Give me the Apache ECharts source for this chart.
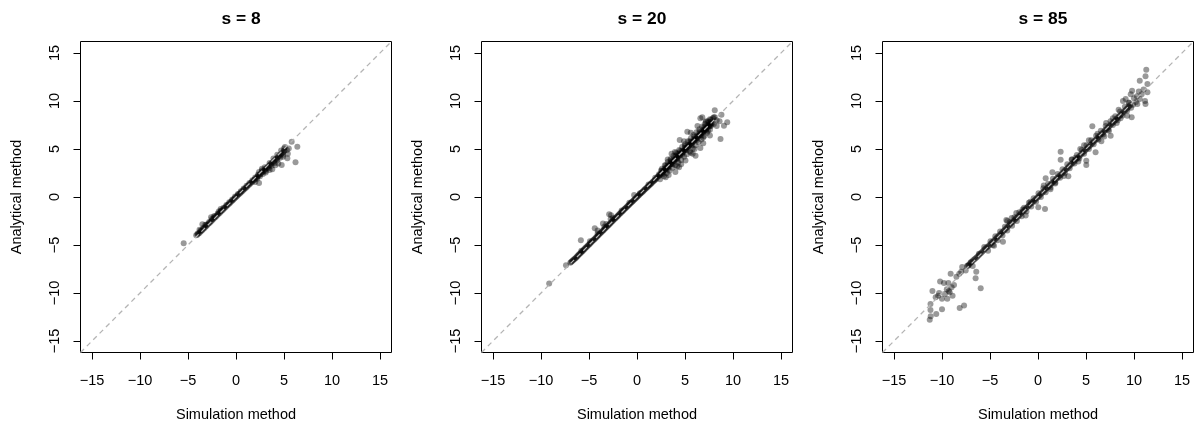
<!DOCTYPE html>
<html>
<head>
<meta charset="utf-8">
<script src="https://cdn.jsdelivr.net/npm/echarts@6/dist/echarts.min.js"></script>
<style>
  html, body { margin: 0; padding: 0; background: #fff; }
  #chart { width: 1198px; height: 429px; }
</style>
</head>
<body>
<div id="chart"></div>
<script>
// ---------- data ----------
const panelTitles = ['s = 8', 's = 20', 's = 85'];
const tickValues = [-15, -10, -5, 0, 5, 10, 15];
const axisRange = [-16.2, 16.2];
const xTitle = 'Simulation method';
const yTitle = 'Analytical method';

// s = 8 : [simulation, analytical]
const s8Band = [
  [-4.15,-3.98],[-4.02,-3.92],[-3.9,-3.8],[-3.78,-3.72],[-3.66,-3.58],[-3.55,-3.5],[-3.44,-3.36],[-3.31,-3.26],
  [-3.2,-3.12],[-3.08,-3.02],[-2.96,-2.9],[-2.85,-2.77],[-2.73,-2.68],[-2.62,-2.55],[-2.5,-2.44],[-2.38,-2.33],
  [-2.27,-2.2],[-2.15,-2.1],[-2.03,-1.97],[-1.92,-1.86],[-1.8,-1.75],[-1.68,-1.63],[-1.57,-1.52],[-1.45,-1.4],
  [-1.33,-1.3],[-1.22,-1.18],[-1.1,-1.07],[-0.98,-0.95],[-0.87,-0.84],[-0.75,-0.73],[-0.63,-0.62],[-0.52,-0.5],
  [-0.4,-0.39],[-0.28,-0.28],[-0.17,-0.16],[-0.05,-0.05],[0.07,0.06],[0.18,0.17],[0.3,0.28],[0.42,0.39],
  [0.53,0.5],[0.65,0.61],[0.77,0.72],[0.88,0.83],[1.0,0.94],[1.12,1.05],[1.23,1.16],[1.35,1.27],[1.47,1.38],
  [1.58,1.5],[1.7,1.6],[1.82,1.72],[1.93,1.83],[2.05,1.94],[2.17,2.05],[2.28,2.17],[2.4,2.28],[2.52,2.38],
  [2.63,2.5],[2.75,2.6],[2.87,2.72],[2.98,2.83],[3.1,2.94],[3.22,3.05],[3.33,3.16],[3.45,3.27],[3.57,3.38],
  [3.68,3.5],[3.8,3.6],[3.92,3.72],[4.03,3.83],[4.15,3.95],[4.27,4.05],[4.38,4.17],[4.5,4.28],[4.62,4.4],
  [4.73,4.5],[4.85,4.62],[4.97,4.75],[5.05,4.85],
  [2.2,1.9],[2.5,2.15],[2.8,2.4],[3.1,2.7],[3.4,3.0],[3.7,3.25],[4.0,3.55],[4.3,3.85],[4.6,4.1],[4.9,4.4],
  [2.3,2.35],[2.7,2.75],[3.0,3.1],[3.5,3.55],[3.9,4.0],[4.3,4.4],[4.7,4.85],[5.0,5.05],
  [-4.0,-3.8],[-3.7,-3.5],[-3.4,-3.2],[-3.1,-2.9],[-2.8,-2.6],[-2.5,-2.3],[-2.2,-2.0],[-1.9,-1.72],[-1.6,-1.42],
  [-1.3,-1.12],[-1.0,-0.84],[-0.7,-0.55],[-0.4,-0.25],[-0.1,0.04],[0.2,0.32],[0.5,0.6],[0.8,0.88],[1.1,1.17],
  [1.4,1.45],[1.7,1.74],[2.0,2.03]
];
const s8Scatter = [
  [-5.45,-4.82],[-3.5,-2.85],[-3.2,-2.9],[-2.6,-2.1],[-2.3,-2.0],[-1.6,-1.25],[-1.8,-1.5],[-3.8,-3.4],
  [5.8,5.76],[6.39,5.24],[6.2,3.62],[5.5,5.05],[5.35,4.03],[5.3,4.9],[5.1,5.2],[4.1,3.3],[4.76,3.33],
  [3.1,2.55],[2.4,1.45],[3.78,2.9],[4.4,3.5],[2.0,1.55],[5.4,4.5],[4.9,4.2],[3.5,2.8],[2.4,2.6],[2.7,2.95]
];

// s = 20
const s20Band = [
  [-6.95,-6.85],[-6.78,-6.7],[-6.6,-6.55],[-6.42,-6.38],[-6.25,-6.2],[-6.08,-6.02],[-5.9,-5.85],[-5.72,-5.68],
  [-5.55,-5.5],[-5.38,-5.32],[-5.2,-5.15],[-5.02,-4.98],[-4.85,-4.8],[-4.68,-4.62],[-4.5,-4.45],[-4.32,-4.28],
  [-4.15,-4.1],[-3.98,-3.92],[-3.8,-3.75],[-3.62,-3.58],[-3.45,-3.4],[-3.28,-3.22],[-3.1,-3.05],[-2.92,-2.88],
  [-2.75,-2.7],[-2.58,-2.52],[-2.4,-2.35],[-2.22,-2.18],[-2.05,-2.0],[-1.88,-1.83],[-1.7,-1.66],[-1.52,-1.48],
  [-1.35,-1.31],[-1.18,-1.14],[-1.0,-0.97],[-0.82,-0.8],[-0.65,-0.63],[-0.48,-0.46],[-0.3,-0.29],[-0.12,-0.12],
  [0.05,0.05],[0.22,0.21],[0.4,0.38],[0.58,0.55],[0.75,0.72],[0.92,0.88],[1.1,1.05],[1.28,1.22],[1.45,1.38],
  [1.62,1.55],[1.8,1.72],[1.98,1.88],
  [-6.86,-6.78],[-6.69,-6.62],[-6.51,-6.46],[-6.33,-6.29],[-6.16,-6.11],[-5.99,-5.94],[-5.81,-5.76],[-5.63,-5.59],
  [-5.46,-5.41],[-5.29,-5.24],[-5.11,-5.06],[-4.93,-4.89],[-4.76,-4.71],[-4.59,-4.54],[-4.41,-4.37],[-4.23,-4.19],
  [-4.06,-4.01],[-3.89,-3.84],[-3.71,-3.66],[-3.53,-3.49],[-3.36,-3.31],[-3.19,-3.14],[-3.01,-2.96],[-2.83,-2.79],
  [-2.66,-2.61],[-2.49,-2.44],[-2.31,-2.27],[-2.13,-2.09],[-1.96,-1.92],[-1.79,-1.75],[-1.61,-1.57],[-1.43,-1.4],
  [-1.26,-1.23],[-1.09,-1.06],[-0.91,-0.89],[-0.73,-0.71],[-0.56,-0.54],[-0.39,-0.38],[-0.21,-0.2],[-0.03,-0.03],
  [0.13,0.13],[0.31,0.3],[0.49,0.47],[0.66,0.63],[0.83,0.8],[1.01,0.97],[1.19,1.14],[1.36,1.3],[1.53,1.47],
  [1.71,1.64],[1.89,1.8],[2.05,1.98],
  [-5.8,-5.6],[-4.9,-4.6],[-4.1,-3.8],[-3.4,-3.1],[-2.5,-2.2],[-1.6,-1.4],[-0.8,-0.6],[0.3,0.4],[1.2,1.3],[1.9,2.0],
  [2.15,2.1],[2.35,2.3],[2.55,2.48],[2.75,2.7],[2.95,2.88],[3.15,3.1],[3.35,3.28],[3.55,3.5],[3.75,3.68],
  [3.95,3.9],[4.15,4.08],[4.35,4.3],[4.55,4.48],[4.75,4.7],[4.95,4.88],[5.15,5.1],[5.35,5.28],[5.55,5.5],
  [5.75,5.68],[5.95,5.9],[6.15,6.08],[6.35,6.3],[6.55,6.48],[6.75,6.7],[6.95,6.88],[7.15,7.1],[7.35,7.28],
  [7.55,7.5],[7.75,7.72],
  [2.25,2.2],[2.45,2.39],[2.65,2.59],[2.85,2.79],[3.05,2.99],[3.25,3.19],[3.45,3.39],[3.65,3.59],[3.85,3.79],
  [4.05,3.99],[4.25,4.19],[4.45,4.39],[4.65,4.59],[4.85,4.79],[5.05,4.99],[5.25,5.19],[5.45,5.39],[5.65,5.59],
  [5.85,5.79],[6.05,5.99],[6.25,6.19],[6.45,6.39],[6.65,6.59],[6.85,6.79],[7.05,6.99],[7.25,7.19],[7.45,7.39],[7.65,7.6],
  [2.3,2.38],[2.6,2.7],[2.9,3.0],[3.2,3.32],[3.5,3.62],[3.8,3.92],[4.1,4.22],[4.4,4.52],[4.7,4.82],[5.0,5.12],
  [5.3,5.42],[5.6,5.72],[5.9,6.02],[6.2,6.32],[6.5,6.62],[6.8,6.92],[7.1,7.22],[7.4,7.52],[7.7,7.85],
  [2.4,2.25],[2.7,2.55],[3.0,2.85],[3.3,3.15],[3.6,3.45],[3.9,3.75],[4.2,4.05],[4.5,4.35],[4.8,4.65],[5.1,4.95],
  [5.4,5.25],[5.7,5.55],[6.0,5.85],[6.3,6.15],[6.6,6.45],[6.9,6.75],[7.2,7.05],[7.5,7.35],[7.8,7.65],
  [2.5,2.75],[3.0,3.3],[3.5,3.8],[4.0,4.3],[4.5,4.8],[5.0,5.3],[5.5,5.8],[6.0,6.3],[6.5,6.8],[7.0,7.3],[7.5,7.8],
  [2.7,2.4],[3.2,2.9],[3.7,3.4],[4.2,3.9],[4.7,4.4],[5.2,4.9],[5.7,5.4],[6.2,5.9],[6.7,6.4],[7.2,6.9],[7.7,7.4],
  [2.4,1.85],[2.8,2.15],[3.1,2.5],[3.4,2.75],[3.7,3.05],[4.0,3.3],[4.3,3.6],[4.6,3.85],[4.9,4.2],[5.2,4.45],
  [5.5,4.75],[5.8,5.05],[6.1,5.4],[6.4,5.7],[6.7,6.0],[7.0,6.35],[7.3,6.7],[7.6,7.0],
  [2.6,2.95],[2.9,3.3],[3.2,3.65],[3.5,3.95],[3.8,4.3],[4.1,4.6],[4.4,4.9],[4.7,5.2],[5.0,5.5],[5.3,5.8],
  [5.6,6.1],[5.9,6.45],[6.2,6.75],[6.5,7.05],[6.8,7.35],[7.1,7.6],[7.4,7.9],[7.7,8.05]
];
const s20Scatter = [
  [-9.15,-9.0],[-7.4,-7.1],[-5.85,-4.5],[-4.4,-3.25],[-4.1,-3.5],[-3.55,-2.75],[-2.9,-1.8],[-2.7,-1.9],
  [-2.75,-2.3],[-3.2,-2.8],[-0.3,0.2],
  [8.1,9.05],[9.4,7.8],[8.8,8.57],[8.7,6.05],[5.24,6.8],[4.45,5.95],[6.8,8.3],[3.95,4.7],[6.1,4.3],
  [4.0,2.6],[5.05,3.8],[9.06,7.43],[8.1,8.3],[7.67,7.43],[7.15,7.8],[8.3,7.4],[8.6,7.9],[7.9,8.2],
  [8.0,7.6],[7.6,6.4],[6.9,5.6],[6.6,5.1],[5.6,4.6],[5.8,4.5],[4.6,3.4],[3.3,2.3],[2.99,2.05],[3.2,3.9],
  [3.6,4.5],[4.9,5.8],[5.6,6.7],[6.3,7.4],[7.0,7.0],[7.6,8.1],[6.0,5.0],[4.2,3.2],[4.2,4.48],[4.38,3.09],
  [6.9,6.2],[7.4,6.9],[8.3,8.0],[8.0,8.3],[7.2,7.9],[6.6,8.2]
];

// s = 85
const s85Band = [
  [-7.4,-7.2],[-7.15,-7.0],[-6.9,-6.75],[-6.65,-6.5],[-6.4,-6.3],[-6.15,-6.05],[-5.9,-5.8],[-5.65,-5.55],
  [-5.4,-5.3],[-5.15,-5.1],[-4.9,-4.85],[-4.65,-4.6],[-4.4,-4.35],[-4.15,-4.1],[-3.9,-3.85],[-3.65,-3.6],
  [-3.4,-3.35],[-3.15,-3.1],[-2.9,-2.85],[-2.65,-2.6],[-2.4,-2.35],[-2.15,-2.1],[-1.9,-1.85],[-1.65,-1.6],
  [-1.4,-1.35],[-1.15,-1.1],[-0.9,-0.85],[-0.65,-0.62],[-0.4,-0.38],[-0.15,-0.13],[0.1,0.1],[0.35,0.36],
  [0.6,0.6],[0.85,0.85],[1.1,1.1],[1.35,1.33],[1.6,1.58],[1.85,1.82],[2.1,2.07],[2.35,2.3],[2.6,2.55],
  [2.85,2.8],[3.1,3.05],[3.35,3.3],[3.6,3.55],[3.85,3.8],[4.1,4.05],[4.35,4.3],[4.6,4.55],[4.85,4.8],
  [5.1,5.05],[5.35,5.3],[5.6,5.55],[5.85,5.8],[6.1,6.05],[6.35,6.3],[6.6,6.55],[6.85,6.8],[7.1,7.05],
  [7.35,7.3],[7.6,7.55],[7.85,7.8],[8.1,8.05],[8.35,8.3],[8.6,8.55],[8.85,8.8],[9.1,9.05],[9.35,9.3],[9.6,9.55],
  [-7.28,-7.1],[-7.03,-6.88],[-6.78,-6.62],[-6.53,-6.4],[-6.28,-6.18],[-6.03,-5.92],[-5.78,-5.68],[-5.53,-5.42],
  [-5.28,-5.2],[-5.03,-4.98],[-4.78,-4.72],[-4.53,-4.48],[-4.28,-4.22],[-4.03,-3.98],[-3.78,-3.72],[-3.53,-3.48],
  [-3.28,-3.22],[-3.03,-2.98],[-2.78,-2.72],[-2.53,-2.48],[-2.28,-2.22],[-2.03,-1.98],[-1.78,-1.72],[-1.53,-1.48],
  [-1.28,-1.22],[-1.03,-0.98],[-0.78,-0.74],[-0.53,-0.5],[-0.28,-0.26],[-0.03,-0.02],[0.22,0.23],[0.47,0.48],
  [0.72,0.72],[0.97,0.97],[1.22,1.21],[1.47,1.45],[1.72,1.7],[1.97,1.95],[2.22,2.18],[2.47,2.42],[2.72,2.68],
  [2.97,2.92],[3.22,3.18],[3.47,3.42],[3.72,3.68],[3.97,3.92],[4.22,4.18],[4.47,4.42],[4.72,4.68],[4.97,4.92],
  [5.22,5.18],[5.47,5.42],[5.72,5.68],[5.97,5.92],[6.22,6.18],[6.47,6.42],[6.72,6.68],[6.97,6.92],[7.22,7.18],
  [7.47,7.42],[7.72,7.68],[7.97,7.92],[8.22,8.18],[8.47,8.42],[8.72,8.68],[8.97,8.92],[9.22,9.18],[9.47,9.42],
  [-4.95,-4.6],[-4.45,-4.1],[-3.95,-3.6],[-3.45,-3.1],[-2.95,-2.62],[-2.45,-2.1],[-1.95,-1.6],[-1.45,-1.12],
  [-0.95,-0.6],[-0.45,-0.12],[0.05,0.4],[0.55,0.9],[1.05,1.38],[1.55,1.9],[2.05,2.4],[2.55,2.88],[3.05,3.4],
  [3.55,3.9],[4.05,4.38],[4.55,4.9],[5.05,5.4],[5.55,5.9],[6.05,6.38],[6.55,6.9],[7.05,7.4],[7.55,7.9],
  [8.05,8.4],[8.55,8.9],[9.05,9.4],[9.45,9.85],
  [-4.7,-5.0],[-4.2,-4.5],[-3.7,-4.0],[-3.2,-3.5],[-2.7,-3.0],[-2.2,-2.5],[-1.7,-2.0],[-1.2,-1.5],[-0.7,-1.0],
  [-0.2,-0.5],[0.3,0.0],[0.8,0.5],[1.3,1.0],[1.8,1.5],[2.3,2.0],[2.8,2.5],[3.3,3.0],[3.8,3.5],[4.3,4.0],
  [4.8,4.5],[5.3,5.0],[5.8,5.5],[6.3,6.0],[6.8,6.5],[7.3,7.0],[7.8,7.5],[8.3,8.0],[8.8,8.5],[9.3,9.0],[9.7,9.3]
];
const s85Scatter = [
  [-11.28,-12.8],[-11.18,-12.43],[-11.2,-11.77],[-11.2,-11.15],[-10.6,-12.2],[-10.0,-11.7],[-11.0,-9.8],
  [-10.3,-10.0],[-10.0,-10.6],[-10.66,-10.45],[-9.8,-8.96],[-9.34,-8.96],[-9.2,-9.93],[-8.9,-10.3],
  [-9.45,-10.6],[-9.1,-8.0],[-8.75,-9.17],[-8.16,-11.56],[-7.7,-11.3],[-8.2,-8.0],[-7.53,-7.67],
  [-5.97,-9.5],[-6.5,-8.47],[-6.43,-7.78],[-7.26,-7.15],[-10.2,-8.8],[-9.5,-9.6],[-9.0,-9.4],[-8.5,-8.3],
  [-7.9,-7.3],[-7.0,-6.8],[-6.8,-7.2],[-8.0,-7.8],[-9.3,-9.8],[-10.4,-10.3],[-9.7,-10.1],
  [-6.15,-5.9],[-5.6,-5.2],[-5.2,-5.6],[-4.58,-5.07],[-3.65,-4.65],[-3.3,-2.4],[-2.74,-2.19],[-2.26,-1.67],
  [-1.28,-1.94],[-3.2,-2.5],[-1.6,-1.3],[-0.8,-0.5],[0.03,-1.07],[0.73,-1.25],[0.8,1.95],[1.5,2.57],
  [0.6,1.2],[1.3,0.8],[1.8,1.4],[2.36,4.72],[2.36,3.89],[3.16,2.16],[2.7,2.2],[3.5,3.9],[3.9,4.1],
  [4.2,3.7],[5.03,3.33],[5.03,3.78],[6.0,4.65],[4.4,5.0],[4.8,5.4],[5.66,7.36],[5.3,5.9],[6.2,6.6],
  [6.6,5.8],[7.57,6.39],[7.1,7.7],[6.9,6.3],[7.8,8.2],[7.4,6.9],[8.2,7.7],[8.6,8.2],[8.4,9.1],
  [9.13,10.2],[11.28,13.26],[10.6,12.1],[11.2,12.57],[11.4,11.77],[11.4,10.9],[11.15,10.0],[11.2,9.7],
  [10.35,9.7],[9.66,10.7],[9.8,11.07],[8.85,10.0],[9.3,8.47],[9.76,8.3],[10.0,10.3],[10.3,10.5],
  [10.6,10.2],[10.2,9.9],[9.9,9.6],[10.8,10.7],[11.0,11.2],[9.5,9.8],[10.5,11.0]
];

const panelData = [s8Band.concat(s8Scatter), s20Band.concat(s20Scatter), s85Band.concat(s85Scatter)];

// ---------- layout ----------
const gridLefts = [80.5, 481.5, 882.5];
const gridTop = 41.5, gridSize = 311;
const FONT = '"Liberation Sans", Arial, Helvetica, sans-serif';
const fmt = v => String(v).replace('-', '\u2212');

const grids = [], xAxes = [], yAxes = [], series = [], titles = [];
panelData.forEach((pts, i) => {
  grids.push({ left: gridLefts[i], top: gridTop, width: gridSize, height: gridSize,
    show: true, borderColor: '#000', borderWidth: 1, backgroundColor: 'transparent' });
  titles.push({ text: panelTitles[i], left: gridLefts[i] + gridSize / 2, top: 6, textAlign: 'center',
    textStyle: { fontFamily: FONT, fontWeight: 'bold', fontSize: 17.4, color: '#000' } });
  const common = {
    gridIndex: i, type: 'value', min: axisRange[0], max: axisRange[1],
    axisLine: { show: false, onZero: false }, splitLine: { show: false },
    axisTick: { show: true, inside: false, length: 7, customValues: tickValues, lineStyle: { color: '#000', width: 1 } },
    nameLocation: 'middle',
    nameTextStyle: { fontFamily: FONT, fontSize: 14.5, color: '#000' }
  };
  xAxes.push(Object.assign({}, common, {
    position: 'bottom', name: xTitle, nameGap: 55,
    axisLabel: { customValues: tickValues, formatter: fmt, fontFamily: FONT, fontSize: 14.5, color: '#000', margin: 21 }
  }));
  yAxes.push(Object.assign({}, common, {
    position: 'left', name: yTitle, nameGap: 56,
    axisLabel: { customValues: tickValues, formatter: fmt, fontFamily: FONT, fontSize: 14.5, color: '#000', margin: 18, rotate: 90 }
  }));
  series.push({
    type: 'scatter', xAxisIndex: i, yAxisIndex: i, data: pts, symbol: 'circle', symbolSize: 6,
    itemStyle: { color: 'rgba(0,0,0,0.5)', borderWidth: 0 }, silent: true, z: 2, large: false
  });
  series.push({
    type: 'line', xAxisIndex: i, yAxisIndex: i,
    data: [[axisRange[0], axisRange[0]], [axisRange[1], axisRange[1]]],
    symbol: 'none', silent: true, z: 3,
    lineStyle: { color: '#b4b4b4', width: 1.3, type: [5, 4] }
  });
});

const chart = echarts.init(document.getElementById('chart'), null, { renderer: 'canvas' });
chart.setOption({
  backgroundColor: '#fff',
  animation: false,
  title: titles,
  grid: grids,
  xAxis: xAxes,
  yAxis: yAxes,
  series: series
});
</script>
</body>
</html>
